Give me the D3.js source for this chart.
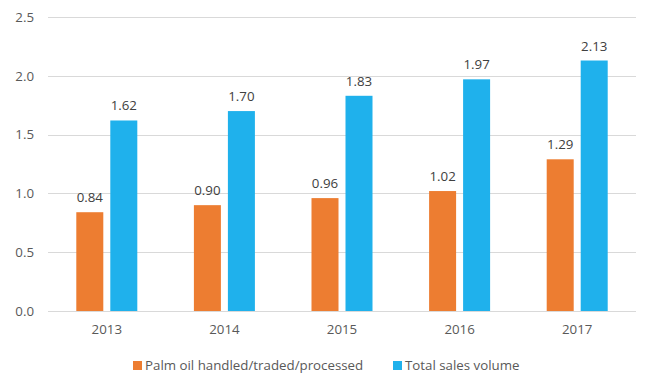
<!DOCTYPE html>
<html>
<head>
<meta charset="utf-8">
<script src="https://cdn.jsdelivr.net/npm/d3@7"></script>
<style>
    body { margin: 0; background: #fff; }
    svg text { font-family: "Open Sans", "Noto Sans", sans-serif; fill: #595959; }
</style>
</head>
<body>
<svg id="chart" width="648" height="388"></svg>
<script>
"use strict"

const years = ["2013", "2014", "2015", "2016", "2017"]
const palmOil = [0.84, 0.90, 0.96, 1.02, 1.29]
const totalSales = [1.62, 1.70, 1.83, 1.97, 2.13]
const seriesNames = ["Palm oil handled/traded/processed", "Total sales volume"]
const seriesColors = ["#ED7D31", "#1FB1EC"]
const yTicks = [0, 0.5, 1.0, 1.5, 2.0, 2.5]

const margin = { top: 17, right: 12, bottom: 77, left: 48 }
const width = 648, height = 388
const fontSize = 13.3

const svg = d3.select("#chart")

const x = d3.scaleBand()
    .domain(years)
    .range([margin.left, width - margin.right])

const y = d3.scaleLinear()
    .domain([0, 2.5])
    .range([height - margin.bottom, margin.top])

// gridlines
svg.append("g")
    .selectAll("line")
    .data(yTicks)
    .join("line")
    .attr("x1", margin.left)
    .attr("x2", width - margin.right)
    .attr("y1", d => Math.round(y(d)) + 0.5)
    .attr("y2", d => Math.round(y(d)) + 0.5)
    .attr("stroke", "#d9d9d9")
    .attr("stroke-width", 1)

// y axis labels
const yAxis = svg.append("g")
    .attr("transform", `translate(${margin.left - 14},0)`)
    .call(d3.axisLeft(y).tickValues(yTicks).tickFormat(d3.format(".1f")).tickSize(0).tickPadding(0))
yAxis.select(".domain").remove()
yAxis.selectAll("text").attr("font-size", fontSize).style("font-family", null)

// x axis labels
const xAxis = svg.append("g")
    .attr("transform", `translate(0,${height - margin.bottom})`)
    .call(d3.axisBottom(x).tickSize(0).tickPadding(14))
xAxis.select(".domain").remove()
xAxis.selectAll("text").attr("font-size", fontSize).style("font-family", null)

const barW = 27, gap = 7
const series = [palmOil, totalSales]

series.forEach((values, s) => {
    const offset = s === 0 ? -(barW + gap / 2) : gap / 2
    const g = svg.append("g")
    g.selectAll("rect")
        .data(values)
        .join("rect")
        .attr("x", (d, i) => x(years[i]) + x.bandwidth() / 2 + offset)
        .attr("y", d => y(d))
        .attr("width", barW)
        .attr("height", d => y(0) - y(d))
        .attr("fill", seriesColors[s])
    g.selectAll("text")
        .data(values)
        .join("text")
        .attr("x", (d, i) => x(years[i]) + x.bandwidth() / 2 + offset + barW / 2)
        .attr("y", d => y(d) - 10)
        .attr("text-anchor", "middle")
        .attr("font-size", fontSize)
        .style("fill", "#404040")
        .text(d => d3.format(".2f")(d))
})

// legend
const legend = svg.append("g").attr("transform", "translate(0,370)")
const legendX = [133, 393]
seriesNames.forEach((name, s) => {
    legend.append("rect")
        .attr("x", legendX[s])
        .attr("y", -9)
        .attr("width", 9)
        .attr("height", 9)
        .attr("fill", seriesColors[s])
    legend.append("text")
        .attr("x", legendX[s] + 12)
        .attr("y", 0)
        .attr("font-size", fontSize)
        .text(name)
})
</script>
</body>
</html>
